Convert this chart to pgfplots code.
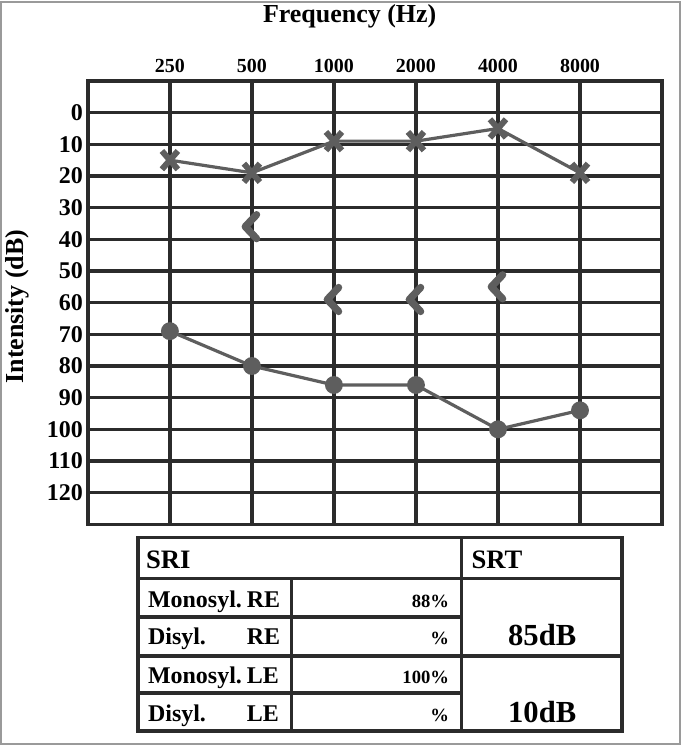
\documentclass[border=0pt]{standalone}
\usepackage{pgfplots}
\pgfplotsset{compat=1.18}
\usepackage{fontspec}
\setmainfont{Liberation Serif}

\definecolor{gridc}{HTML}{2B2B2B}
\definecolor{markc}{HTML}{5E5E5E}
\definecolor{framec}{HTML}{9A9A9A}

\newcommand\fs[1]{\fontsize{#1}{#1}\selectfont\bfseries}

% bone conduction mark (right ear)
\pgfdeclareplotmark{bone}{%
  \pgfpathmoveto{\pgfpoint{3.5pt}{9pt}}%
  \pgfpathlineto{\pgfpoint{-5pt}{0pt}}%
  \pgfpathlineto{\pgfpoint{3.5pt}{-9pt}}%
  \pgfusepathqstroke}

\begin{document}
\begin{tikzpicture}
\begin{scope}[x=0.75pt,y=-0.75pt]
  \path[use as bounding box] (0,0) rectangle (682,745);
  \draw[framec, line width=1.1pt] (1,1) rectangle (681,744);
\end{scope}

\begin{axis}[
  at={(66pt,-393pt)}, anchor=south west,
  scale only axis, width=431.25pt, height=333pt,
  xmin=-1, xmax=6, ymin=-10, ymax=130, y dir=reverse,
  xtick={0,...,5}, xticklabels={250,500,1000,2000,4000,8000},
  ytick={0,10,...,120},
  xticklabel pos=right,
  major tick length=0pt,
  grid=major,
  major grid style={gridc, line width=2.6pt},
  axis line style={gridc, line width=2.6pt},
  /pgf/number format/assume math mode=true,
  xticklabel style={font=\fs{15}, inner sep=0pt, yshift=6pt},
  yticklabel style={font=\fs{18}, inner sep=0pt, xshift=-3.5pt},
  xlabel={Frequency (Hz)},
  xlabel style={at={(axis description cs:0.456,1.146)}, anchor=center, font=\fs{19.5}},
  ylabel={Intensity (dB)},
  ylabel style={at={(axis description cs:-0.1235,0.491)}, anchor=center, font=\fs{19.5}},
]
% right ear, air conduction
\addplot[markc, line width=2.4pt, mark=*, mark size=5.5pt, mark options={solid, fill=markc, draw=markc}]
  coordinates {(0,69) (1,80) (2,86) (3,86) (4,100) (5,94)};
% left ear, air conduction
\addplot[markc, line width=2.4pt, mark=x, mark size=8.5pt, mark options={line width=4.5pt, draw=markc, yscale=1.15}]
  coordinates {(0,15) (1,19) (2,9) (3,9) (4,5) (5,19)};
% right ear, bone conduction
\addplot[only marks, mark=bone, mark options={markc, line width=5.5pt, line cap=round, line join=round}]
  coordinates {(1,36) (2,59) (3,59) (4,55)};
\end{axis}

\begin{scope}[x=0.75pt,y=-0.75pt]
  \draw[gridc, line width=2.6pt] (138,537) rectangle (623,731);
  \draw[gridc, line width=2.6pt] (138,578) -- (623,578);
  \draw[gridc, line width=2.6pt] (138,656) -- (623,656);
  \draw[gridc, line width=2.6pt] (138,617) -- (462,617);
  \draw[gridc, line width=2.6pt] (138,693) -- (462,693);
  \draw[gridc, line width=2.6pt] (462,537) -- (462,731);
  \draw[gridc, line width=2.6pt] (292,578) -- (292,731);
  \node[anchor=base west, inner sep=0pt, font=\fs{20}] at (146,568) {SRI};
  \node[anchor=base west, inner sep=0pt, font=\fs{20}] at (472,568) {SRT};
  \node[anchor=base west, inner sep=0pt, font=\fs{18}] at (148,607) {Monosyl.};
  \node[anchor=base west, inner sep=0pt, font=\fs{18}] at (247,607) {RE};
  \node[anchor=base west, inner sep=0pt, font=\fs{18}] at (148,644) {Disyl.};
  \node[anchor=base west, inner sep=0pt, font=\fs{18}] at (247,644) {RE};
  \node[anchor=base west, inner sep=0pt, font=\fs{18}] at (148,683) {Monosyl.};
  \node[anchor=base west, inner sep=0pt, font=\fs{18}] at (247,683) {LE};
  \node[anchor=base west, inner sep=0pt, font=\fs{18}] at (148,721) {Disyl.};
  \node[anchor=base west, inner sep=0pt, font=\fs{18}] at (247,721) {LE};
  \node[anchor=base east, inner sep=0pt, font=\fs{14}] at (450,607) {88\%};
  \node[anchor=base east, inner sep=0pt, font=\fs{14}] at (450,644) {\%};
  \node[anchor=base east, inner sep=0pt, font=\fs{14}] at (450,683) {100\%};
  \node[anchor=base east, inner sep=0pt, font=\fs{14}] at (450,721) {\%};
  \node[anchor=base, inner sep=0pt, font=\fs{23}] at (543,645) {85dB};
  \node[anchor=base, inner sep=0pt, font=\fs{23}] at (543,722) {10dB};
\end{scope}
\end{tikzpicture}
\end{document}
